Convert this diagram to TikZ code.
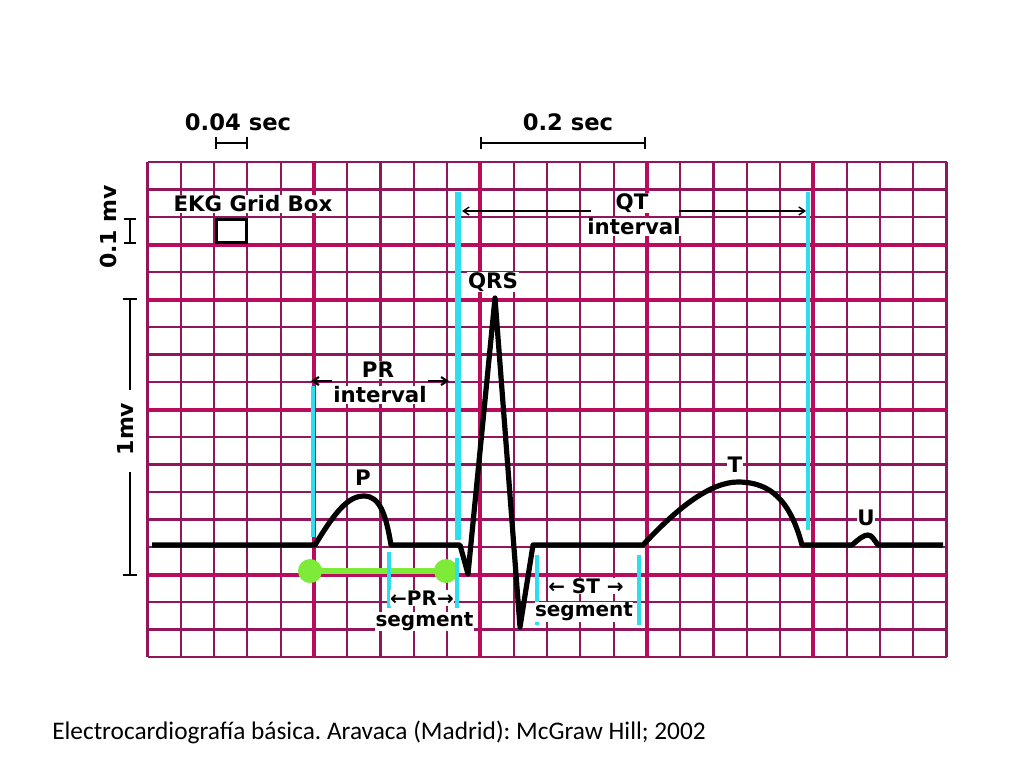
\documentclass[tikz,border=0pt]{standalone}
\usepackage{fontspec}
\setmainfont{Carlito}
\newfontfamily\ekgfont{DejaVu Sans}
\usetikzlibrary{arrows.meta}
\definecolor{gridthin}{RGB}{145,22,92}
\definecolor{gridthick}{RGB}{185,12,92}
\definecolor{cyanmark}{RGB}{45,222,238}
\definecolor{greenbar}{RGB}{125,235,55}
\begin{document}
\frenchspacing
\begin{tikzpicture}[x=0.75pt,y=-0.75pt,
  gthin/.style={gridthin, line width=1.6pt},
  gthick/.style={gridthick, line width=3pt},
  wave/.style={black, line width=3.9pt, line join=round},
  marker/.style={cyanmark, line width=3pt},
  lbl/.style={font=\ekgfont\bfseries\fontsize{16}{18}\selectfont, inner sep=0.6pt, fill=white, text=black},
  seglbl/.style={font=\ekgfont\bfseries\fontsize{15}{17}\selectfont, inner sep=0.3pt, fill=white, text=black},
  toplbl/.style={font=\ekgfont\bfseries\fontsize{17}{20}\selectfont, inner sep=0pt},
  vlbl/.style={font=\ekgfont\bfseries\fontsize{16.5}{19}\selectfont, inner sep=0pt, rotate=90},
  scalebar/.style={black, line width=1.5pt, {Bar[width=9.5pt]}-{Bar[width=9.5pt]}},
  thinarrow/.style={black, line width=1pt, -{Straight Barb[length=4.5pt,width=6pt]}},
  prarrow/.style={black, line width=1.6pt, -{Straight Barb[length=4.5pt,width=6pt]}},
]
\useasboundingbox (0,0) rectangle (1024,768);
\fill[white] (0,0) rectangle (1024,768);

% ---- grid ----
\foreach \j in {0,...,18} {\draw[gthin] (147.5,{162+27.5*\j}) -- (946.5,{162+27.5*\j});}
\foreach \i in {0,...,24} {\draw[gthin] ({147.5+33.292*\i},162) -- ({147.5+33.292*\i},657);}
\foreach \j in {3,5,9,15} {\draw[gthick] (147.5,{162+27.5*\j}) -- (946.5,{162+27.5*\j});}
\foreach \i in {5,10,15,20} {\draw[gthick] ({147.5+33.292*\i},162) -- ({147.5+33.292*\i},657);}

% ---- top scale labels ----
\node[toplbl] (s004) at (238,122) {0.04 sec};
\node[toplbl] (s02) at (568,122) {0.2 sec};
\coordinate (b1a) at (215,143);
\coordinate (b1b) at (248,143);
\coordinate (b2a) at (480,143);
\coordinate (b2b) at (646,143);
\draw[scalebar] (b1a) -- (b1b);
\draw[scalebar] (b2a) -- (b2b);

% ---- left scale labels ----
\node[vlbl] (mv01) at (108,227) {0.1 mv};
\coordinate (m01a) at (130,217.5);
\coordinate (m01b) at (130,244);
\draw[scalebar] (m01a) -- (m01b);
\node[vlbl] (mv1) at (125,429) {1mv};
\coordinate (mvtop) at (130,298);
\coordinate (mvg1) at (130,390);
\coordinate (mvg2) at (130,472);
\coordinate (mvbot) at (130,576);
\draw[black, line width=1.5pt, {Bar[width=11pt]}-] (mvtop) -- (mvg1);
\draw[black, line width=1.5pt, -{Bar[width=11pt]}] (mvg2) -- (mvbot);

% ---- grid box ----
\node[lbl] (gridbox) at (253,204) {EKG Grid Box};
\node[draw=black, line width=2.3pt, fill=white, minimum width=22.5pt, minimum height=17.25pt, inner sep=0pt] (gbox) at (231.5,231) {};

% ---- green PR bar ----
\coordinate (ga) at (310,571);
\coordinate (gb) at (446,571);
\draw[greenbar, line width=4.5pt] (ga) -- (gb);
\fill[greenbar] (ga) circle[radius=12];
\fill[greenbar] (gb) circle[radius=12];

% ---- cyan markers ----
\coordinate (c1a) at (313,386);  \coordinate (c1b) at (313,537);
\coordinate (c2a) at (458,192);  \coordinate (c2b) at (458,540);
\coordinate (c3a) at (457,558);  \coordinate (c3b) at (457,608);
\coordinate (c4a) at (389,552);  \coordinate (c4b) at (389,608);
\coordinate (c5a) at (537,555);  \coordinate (c5b) at (537,625);
\coordinate (c6a) at (639,555);  \coordinate (c6b) at (639,625);
\coordinate (c7a) at (808,192);  \coordinate (c7b) at (808,530);
\draw[marker] (c1a) -- (c1b);
\draw[marker, line width=4pt] (c2a) -- (c2b);
\draw[marker] (c3a) -- (c3b);
\draw[marker] (c4a) -- (c4b);
\draw[marker] (c5a) -- (c5b);
\draw[marker] (c6a) -- (c6b);
\draw[marker] (c7a) -- (c7b);

% ---- ECG waveform ----
\draw[wave] (152,545) -- (315,545)
  .. controls (335,512) and (348,496) .. (364,496)
  .. controls (380,496) and (386,515) .. (391,545)
  -- (460,545) -- (468,574) -- (495,298) -- (520,627) -- (533,545)
  -- (643,545)
  .. controls (680,505) and (712,482) .. (738,482)
  .. controls (770,482) and (790,500) .. (802,545)
  -- (852,545)
  .. controls (860,538) and (864,535) .. (868,535)
  .. controls (872,535) and (874,540) .. (878,545)
  -- (943,545);

% ---- QT interval ----
\node[lbl] (qt) at (632,203) {QT};
\node[lbl] (qti) at (634,227) {interval};
\coordinate (qtla) at (591,211);
\coordinate (qtl) at (462,211);
\coordinate (qtra) at (679,211);
\coordinate (qtr) at (806,211);
\draw[thinarrow] (qtla) -- (qtl);
\draw[thinarrow] (qtra) -- (qtr);

% ---- QRS ----
\node[lbl] (qrs) at (493,282) {QRS};

% ---- PR interval ----
\node[lbl] (pr) at (378,370) {PR};
\node[lbl] (pri) at (380,395) {interval};
\coordinate (pral) at (332,381);
\coordinate (prl) at (311,381);
\coordinate (prar) at (428,381);
\coordinate (prr) at (449,381);
\draw[prarrow] (pral) -- (prl);
\draw[prarrow] (prar) -- (prr);

% ---- waves ----
\node[lbl] (plbl) at (363,478) {P};
\node[lbl] (tlbl) at (735,465) {T};
\node[lbl] (ulbl) at (866,518) {U};

% ---- segments ----
\node[seglbl] (prs) at (422,598) {←PR→};
\node[seglbl] (prsg) at (424.5,621.5) {segment};
\node[seglbl] (st) at (586,586) {← ST →};
\node[seglbl] (stsg) at (584,612) {segment};

% ---- caption ----
\node[anchor=base west, font=\fontsize{19}{22}\selectfont, inner sep=0pt] (cap) at (52,739) {Electrocardiografía básica. Aravaca (Madrid): McGraw Hill; 2002};
\end{tikzpicture}
\end{document}
